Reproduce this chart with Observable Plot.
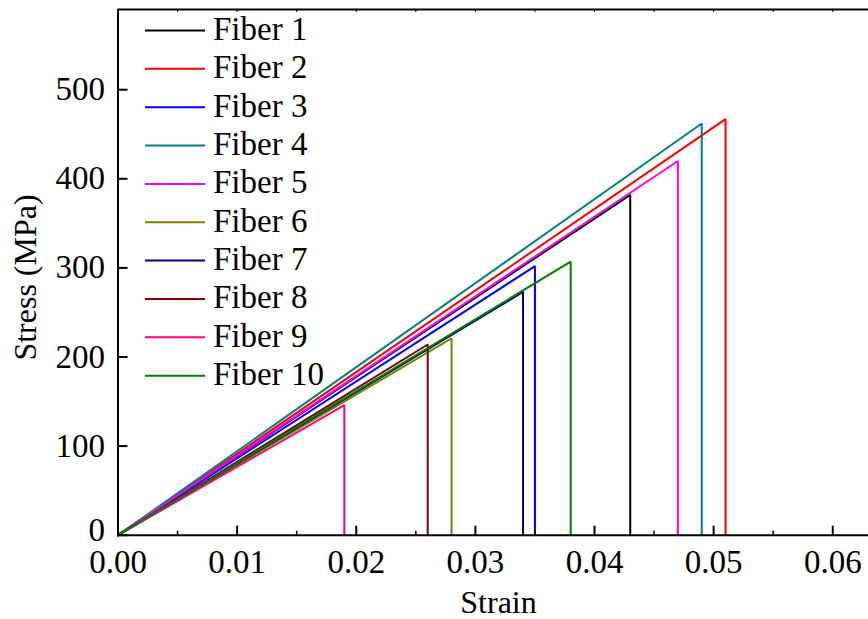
<!DOCTYPE html>
<html>
<head>
<meta charset="utf-8">
<script src="https://cdn.jsdelivr.net/npm/d3@7"></script>
<script src="https://cdn.jsdelivr.net/npm/@observablehq/plot@0.6"></script>
<style>
  html, body { margin: 0; padding: 0; background: #fff; }
  #chart svg { display: block; }
</style>
</head>
<body>
<div id="chart"></div>
<script>
// Tensile tests: each fiber loads linearly to its breaking point, then drops to zero.
const fibers = ["Fiber 1", "Fiber 2", "Fiber 3", "Fiber 4", "Fiber 5",
                "Fiber 6", "Fiber 7", "Fiber 8", "Fiber 9", "Fiber 10"];
const breakStrain = [0.043, 0.051, 0.035, 0.049, 0.047, 0.028, 0.034, 0.026, 0.019, 0.038];
const breakStress = [382, 467, 302, 462, 420, 221, 273, 214, 146, 307];
const colors = ["#000000", "#ff0000", "#0000ff", "#008080", "#ff00ff",
                "#808000", "#000080", "#800000", "#ff0080", "#008000"];

const xTicks = [0, 0.01, 0.02, 0.03, 0.04, 0.05, 0.06];
const xMinorTicks = [0.005, 0.015, 0.025, 0.035, 0.045, 0.055];
const xTopTicks = [0.005, 0.01, 0.015, 0.02, 0.025, 0.03, 0.035, 0.04, 0.045, 0.05, 0.055, 0.06];
const yTicks = [0, 100, 200, 300, 400, 500];

// One polyline per fiber: origin -> break point -> back down to zero stress.
const curves = fibers.flatMap((name, i) => [
  {fiber: name, strain: 0, stress: 0},
  {fiber: name, strain: breakStrain[i], stress: breakStress[i]},
  {fiber: name, strain: breakStrain[i], stress: 0}
]);

const font = "'Liberation Serif', 'Times New Roman', serif";

const chart = Plot.plot({
  width: 868,
  height: 619,
  marginLeft: 117.5,
  marginRight: 0,
  marginTop: 9,
  marginBottom: 84.3,
  style: {fontFamily: font, fontSize: "33px", color: "#000", background: "#fff"},
  x: {domain: [0, 0.063], label: null},
  y: {domain: [0, 590], label: null},
  color: {domain: fibers, range: colors},
  marks: [
    Plot.line(curves, {x: "strain", y: "stress", z: "fiber", stroke: "fiber", strokeWidth: 2, strokeLinejoin: "miter"}),
    // frame (left, bottom, top)
    Plot.ruleX([0], {stroke: "#000", strokeWidth: 2}),
    Plot.ruleY([0, 590], {stroke: "#000", strokeWidth: 2}),
    // inward ticks
    Plot.axisX({ticks: xTicks, tickSize: -9, tickFormat: () => "", strokeWidth: 2, label: null}),
    Plot.axisX({ticks: xMinorTicks, tickSize: -4, tickFormat: () => "", strokeWidth: 1.5, label: null}),
    Plot.axisX({anchor: "top", ticks: xTopTicks, tickSize: -2, tickFormat: () => "", strokeWidth: 1, label: null}),
    Plot.axisY({ticks: yTicks, tickSize: -10, tickFormat: () => "", strokeWidth: 2, label: null}),
    // tick labels (the zero on the stress axis sits a little high, clear of 0.00)
    Plot.axisX({ticks: xTicks, tickSize: 0, tickPadding: 14, tickFormat: d3.format(".2f"), fontSize: 33, fill: "#000", label: null}),
    Plot.axisY({ticks: yTicks.filter((d) => d > 0), tickSize: 0, tickPadding: 13, tickFormat: d3.format("d"), fontSize: 33, fill: "#000", label: null}),
    Plot.axisY({ticks: yTicks.filter((d) => d === 0), tickSize: 0, tickPadding: 13, dy: -5, tickFormat: d3.format("d"), fontSize: 33, fill: "#000", label: null})
  ]
});

document.getElementById("chart").appendChild(chart);

const svg = d3.select(chart);

// axis titles
svg.append("text")
  .attr("x", 498.5).attr("y", 613)
  .attr("text-anchor", "middle")
  .attr("font-family", font).attr("font-size", 32).attr("fill", "#000")
  .text("Strain");

svg.append("text")
  .attr("transform", "translate(36,277.5) rotate(-90)")
  .attr("text-anchor", "middle")
  .attr("font-family", font).attr("font-size", 32).attr("fill", "#000")
  .text("Stress (MPa)");

// legend
const legend = svg.append("g")
  .attr("font-family", font).attr("font-size", 33).attr("text-anchor", "start");
fibers.forEach((name, i) => {
  const y = 30.5 + i * 38.35;
  legend.append("line")
    .attr("x1", 145).attr("x2", 205).attr("y1", y).attr("y2", y)
    .attr("stroke", colors[i]).attr("stroke-width", 2);
  legend.append("text")
    .attr("x", 213).attr("y", y + 9.5)
    .attr("text-anchor", "start")
    .attr("fill", "#000")
    .text(name);
});
</script>
</body>
</html>
